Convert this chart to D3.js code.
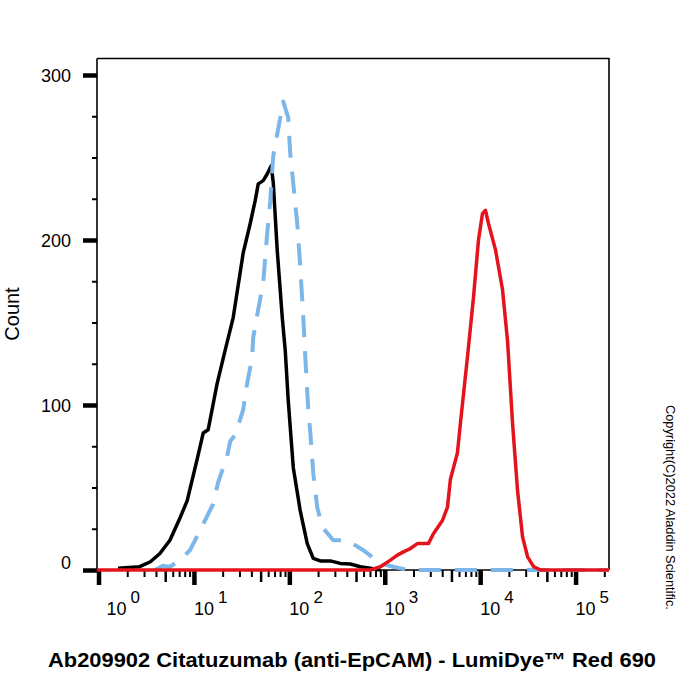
<!DOCTYPE html>
<html>
<head>
<meta charset="utf-8">
<script src="https://cdn.jsdelivr.net/npm/d3@7/dist/d3.min.js"></script>
<style>
  body { margin: 0; background: #fff; }
  svg { display: block; font-family: "Liberation Sans", Arial, sans-serif; }
</style>
</head>
<body>
<div class="chart"></div>
<script>
// Data (fluorescence value, cell count)
const unstainedX = [1.6, 2.7, 3.5, 4.4, 5.6, 7.2, 8.5, 10.8, 12.5, 14.1, 17.5, 21.2, 25.8, 32.8, 38.9, 43.9, 47.2, 53.2, 58.6, 64.6, 67.8, 74.6, 84.3, 90.6, 97.3, 110, 130, 154, 178, 211, 269, 342, 435, 555, 707, 900];
const unstainedCount = [1, 2, 5, 10, 18, 32, 42, 67, 83, 85, 113, 133, 153, 192, 210, 224, 234, 236, 240, 245, 235, 194, 153, 133, 103, 62, 36, 16, 7, 5.5, 5.5, 4, 3.6, 2, 1, 0];

const isotypeX = [3.9, 4.75, 5.6, 7.2, 9.1, 11.6, 15.9, 17.9, 22.3, 24.0, 27.1, 32.8, 36.1, 40.8, 41.8, 47.2, 53.2, 58.6, 63.1, 67.8, 74.6, 86.3, 97.4, 102, 107, 121, 130, 140, 147, 158, 166, 178, 196, 221, 289, 405, 596, 900, 1230, 1730, 224000];
const isotypeCount = [0, 2.5, 2, 6, 12, 24, 40, 53, 69, 78, 82, 97, 113, 129, 141, 158, 174, 204, 224, 251, 264, 284, 274, 253, 241, 210, 184, 153, 129, 97, 83, 59, 38, 26, 18, 18, 12, 4, 2, 0, 0];

const stainedX = [0.96, 707, 900, 1146, 1357, 1567, 1857, 2199, 2866, 3236, 4022, 4538, 4877, 5776, 6210, 7357, 8503, 9600, 10570, 11370, 12220, 14480, 17140, 19350, 21840, 24660, 27820, 31400, 36300, 43000, 224000];
const stainedCount = [0, 0, 2, 6, 9, 11, 13, 16, 16, 22, 30, 38, 55, 71, 89, 129, 165, 200, 216, 218, 210, 194, 170, 139, 89, 48, 20, 8, 2, 0, 0];

const xDecades = [1, 10, 100, 1000, 10000, 100000];
const xExponents = ["0", "1", "2", "3", "4", "5"];
const minorSteps = [2, 3, 4, 6, 7, 8, 9];
const yMajorTicks = [0, 100, 200, 300];
const yMinorTicks = [25, 50, 75, 125, 150, 175, 225, 250, 275];

const titleText = "Ab209902 Citatuzumab (anti-EpCAM) - LumiDye\u2122 Red 690";
const yLabel = "Count";
const copyright = "Copyright(C)2022 Aladdin Scientific.";

// Layout
const width = 700, height = 700;
const plot = {left: 97, right: 609, top: 58.5, bottom: 570};

const svg = d3.select(".chart").append("svg")
  .attr("width", width)
  .attr("height", height);

const x = d3.scaleLog().domain([0.964, 224000]).range([plot.left, plot.right]);
const y = d3.scaleLinear().domain([0, 310]).range([plot.bottom, plot.top]);

// frame (top + right)
svg.append("path")
  .attr("d", `M${plot.left},${plot.top}H${plot.right}V${plot.bottom}`)
  .attr("fill", "none")
  .attr("stroke", "#000")
  .attr("stroke-width", 1.6);

// x axis: majors, mid (5s), minors
const minorVals = [], midVals = [];
xDecades.forEach(d => minorSteps.forEach(m => { if (d * m < 224000) minorVals.push(d * m); }));
xDecades.forEach(d => { if (d * 5 < 224000) midVals.push(d * 5); });

function xAxisGroup(vals, size, sw) {
  const g = svg.append("g")
    .attr("transform", `translate(0,${plot.bottom})`)
    .call(d3.axisBottom(x).tickValues(vals).tickSize(size).tickFormat(""));
  g.select(".domain").remove();
  g.selectAll(".tick line").attr("stroke", "#000").attr("stroke-width", sw);
  return g;
}
xAxisGroup(minorVals, 7, 2);
xAxisGroup(midVals, 12, 2.5);
xAxisGroup(xDecades, 15, 4.5);

svg.append("line")
  .attr("x1", plot.left).attr("x2", plot.right)
  .attr("y1", plot.bottom).attr("y2", plot.bottom)
  .attr("stroke", "#000").attr("stroke-width", 1.6);

// x tick labels 10^n
const xl = svg.append("g").selectAll("text")
  .data(xDecades)
  .join("text")
  .attr("x", (d, i) => x(d) + (i === 0 ? 8 : 0))
  .attr("y", 615)
  .attr("font-size", 18)
  .attr("fill", "#000");
xl.append("tspan").text("10");
xl.append("tspan")
  .attr("dx", 4)
  .attr("dy", -12)
  .attr("font-size", 17)
  .text((d, i) => xExponents[i]);

// y axis
function yAxisGroup(vals, size, sw) {
  const g = svg.append("g")
    .attr("transform", `translate(${plot.left},0)`)
    .call(d3.axisLeft(y).tickValues(vals).tickSize(size).tickFormat(""));
  g.select(".domain").remove();
  g.selectAll(".tick line").attr("stroke", "#000").attr("stroke-width", sw);
  return g;
}
yAxisGroup(yMinorTicks, 5, 2);
yAxisGroup(yMajorTicks, 14, 4.5);

svg.append("line")
  .attr("x1", plot.left).attr("x2", plot.left)
  .attr("y1", plot.top).attr("y2", plot.bottom)
  .attr("stroke", "#000").attr("stroke-width", 1.6);

svg.append("g").selectAll("text")
  .data(yMajorTicks)
  .join("text")
  .attr("x", 71)
  .attr("y", d => y(d) + (d === 0 ? -1 : 6.5))
  .attr("text-anchor", "end")
  .attr("font-size", 18)
  .attr("fill", "#000")
  .text(d => d);

// curves
const line = d3.line()
  .x(d => x(d[0]))
  .y(d => y(d[1]));

svg.append("path")
  .datum(d3.zip(unstainedX, unstainedCount))
  .attr("d", line)
  .attr("fill", "none")
  .attr("stroke", "#000")
  .attr("stroke-width", 3.5)
  .attr("stroke-linejoin", "round");

svg.append("path")
  .datum(d3.zip(isotypeX, isotypeCount))
  .attr("d", line)
  .attr("fill", "none")
  .attr("stroke", "#7db7ea")
  .attr("stroke-width", 4)
  .attr("stroke-dasharray", "22,14")
  .attr("stroke-linejoin", "round");

svg.append("path")
  .datum(d3.zip(stainedX, stainedCount))
  .attr("d", line)
  .attr("fill", "none")
  .attr("stroke", "#e3141c")
  .attr("stroke-width", 3.5)
  .attr("stroke-linejoin", "round");

// texts
svg.append("text")
  .attr("transform", `translate(19,314) rotate(-90)`)
  .attr("text-anchor", "middle")
  .attr("font-size", 20)
  .attr("fill", "#000")
  .text(yLabel);

svg.append("text")
  .attr("x", 352)
  .attr("y", 667)
  .attr("text-anchor", "middle")
  .attr("font-size", 20)
  .attr("font-weight", "bold")
  .attr("textLength", 608)
  .attr("lengthAdjust", "spacingAndGlyphs")
  .attr("fill", "#000")
  .text(titleText);

svg.append("text")
  .attr("transform", `translate(666,405) rotate(90)`)
  .attr("font-size", 12.8)
  .attr("fill", "#000")
  .text(copyright);
</script>
</body>
</html>
